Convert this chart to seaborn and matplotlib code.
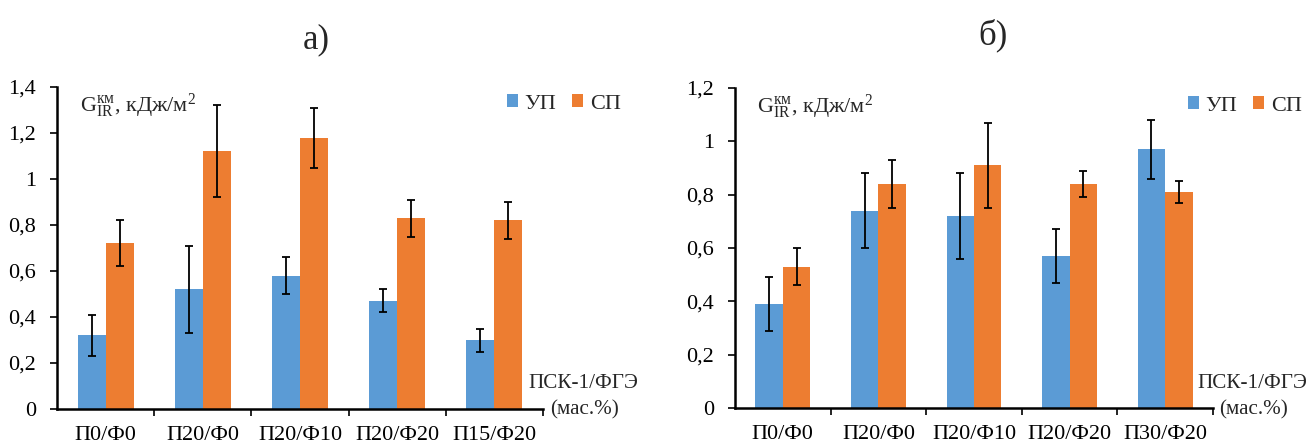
import numpy as np
import pandas as pd
import matplotlib
matplotlib.use("Agg")
import matplotlib.pyplot as plt
from matplotlib.ticker import FuncFormatter, FixedLocator
from matplotlib.patches import Patch
import seaborn as sns

sns.set_theme(style="white")
plt.rcParams['font.family'] = ['Liberation Serif', 'DejaVu Serif']
plt.rcParams['mathtext.fontset'] = 'custom'
plt.rcParams['mathtext.rm'] = 'Liberation Serif'
plt.rcParams['mathtext.it'] = 'Liberation Serif'

# ---- data ----
cats_a = ["П0/Ф0", "П20/Ф0", "П20/Ф10", "П20/Ф20", "П15/Ф20"]
up_a = [0.32, 0.52, 0.58, 0.47, 0.30]
up_a_err = [0.09, 0.19, 0.08, 0.05, 0.05]
sp_a = [0.72, 1.12, 1.18, 0.83, 0.82]
sp_a_err = [0.10, 0.20, 0.13, 0.08, 0.08]

cats_b = ["П0/Ф0", "П20/Ф0", "П20/Ф10", "П20/Ф20", "П30/Ф20"]
up_b = [0.39, 0.74, 0.72, 0.57, 0.97]
up_b_err = [0.10, 0.14, 0.16, 0.10, 0.11]
sp_b = [0.53, 0.84, 0.91, 0.84, 0.81]
sp_b_err = [0.07, 0.09, 0.16, 0.05, 0.04]

series_names = ["УП", "СП"]
colors = ["#5B9BD5", "#ED7D31"]
yticks_a = [0, 0.2, 0.4, 0.6, 0.8, 1.0, 1.2, 1.4]
yticks_b = [0, 0.2, 0.4, 0.6, 0.8, 1.0, 1.2]

W, H = 1311, 446
fig = plt.figure(figsize=(W / 100, H / 100), dpi=100)
ax_a = fig.add_axes([57/W, 37/H, 486/W, 322/H])
ax_b = fig.add_axes([735/W, 38/H, 478/W, 320/H])

fmt = FuncFormatter(lambda v, p: ('%g' % v).replace('.', ','))


def draw(ax, cats, up, up_err, sp, sp_err, yticks, title, title_xy,
         lab_x, mas_x, leg_xy):
    df = pd.DataFrame({
        "cat": cats * 2,
        "val": list(up) + list(sp),
        "err": list(up_err) + list(sp_err),
        "ser": [series_names[0]] * len(cats) + [series_names[1]] * len(cats),
    })
    sns.barplot(data=df, x="cat", y="val", hue="ser", order=cats,
                hue_order=series_names, palette=colors, width=0.575,
                errorbar=None, legend=False, ax=ax, saturation=1,
                edgecolor="none", linewidth=0)
    for cont, s in zip(ax.containers, series_names):
        sub = df[df.ser == s]
        xs = [b.get_x() + b.get_width() / 2 for b in cont]
        ys = [b.get_height() for b in cont]
        ax.errorbar(xs, ys, yerr=sub["err"].values, fmt="none",
                    ecolor="black", elinewidth=1.3, capsize=3, capthick=1.3,
                    zorder=5)
    ax.set_xlim(-0.5, len(cats) - 0.5)
    ax.set_ylim(0, yticks[-1])
    ax.yaxis.set_major_locator(FixedLocator(yticks))
    ax.yaxis.set_major_formatter(fmt)
    ax.set_xlabel("")
    ax.set_ylabel("")
    for sp_ in ["top", "right"]:
        ax.spines[sp_].set_visible(False)
    for sp_ in ["left", "bottom"]:
        ax.spines[sp_].set_color("black")
        ax.spines[sp_].set_linewidth(1.8)
    ax.tick_params(axis="y", which="major", direction="out", length=5,
                   width=1.2, color="black", left=True, labelsize=16, pad=10,
                   labelcolor="black")
    ax.tick_params(axis="x", which="major", length=0, labelsize=16, pad=12,
                   labelcolor="black")
    ax.xaxis.set_minor_locator(FixedLocator(np.arange(0.5, len(cats), 1.0)))
    ax.tick_params(axis="x", which="minor", direction="out", length=5,
                   width=1.2, color="black", bottom=True)
    ax.text(0.047, 0.985,
            r"G$_{\mathregular{IR}}^{\mathregular{км}}$, кДж/м$^{\mathregular{2}}$",
            transform=ax.transAxes, fontsize=16, va="top", ha="left")
    fig.text(lab_x / W, 1 - 384 / H, "ПСК-1/ФГЭ", fontsize=15.2,
             ha="left", va="center")
    fig.text(mas_x / W, 1 - 410 / H, "(мас.%)", fontsize=15.2,
             ha="left", va="center")
    handles = [Patch(facecolor=c, edgecolor="none") for c in colors]
    fig.legend(handles, series_names, loc="center left",
               bbox_to_anchor=(leg_xy[0] / W, 1 - leg_xy[1] / H), ncol=2,
               frameon=False, fontsize=16, handlelength=0.5,
               handleheight=0.5, handletextpad=0.3, columnspacing=0.7,
               borderpad=0, borderaxespad=0)
    fig.text(title_xy[0] / W, 1 - title_xy[1] / H, title, fontsize=25,
             ha="center", va="center")


draw(ax_a, cats_a, up_a, up_a_err, sp_a, sp_a_err, yticks_a, "а)",
     (316, 40), 528, 550, (507, 104))
draw(ax_b, cats_b, up_b, up_b_err, sp_b, sp_b_err, yticks_b, "б)",
     (993, 35), 1197, 1219, (1188, 106))

fig.savefig("out.png", dpi=100)
